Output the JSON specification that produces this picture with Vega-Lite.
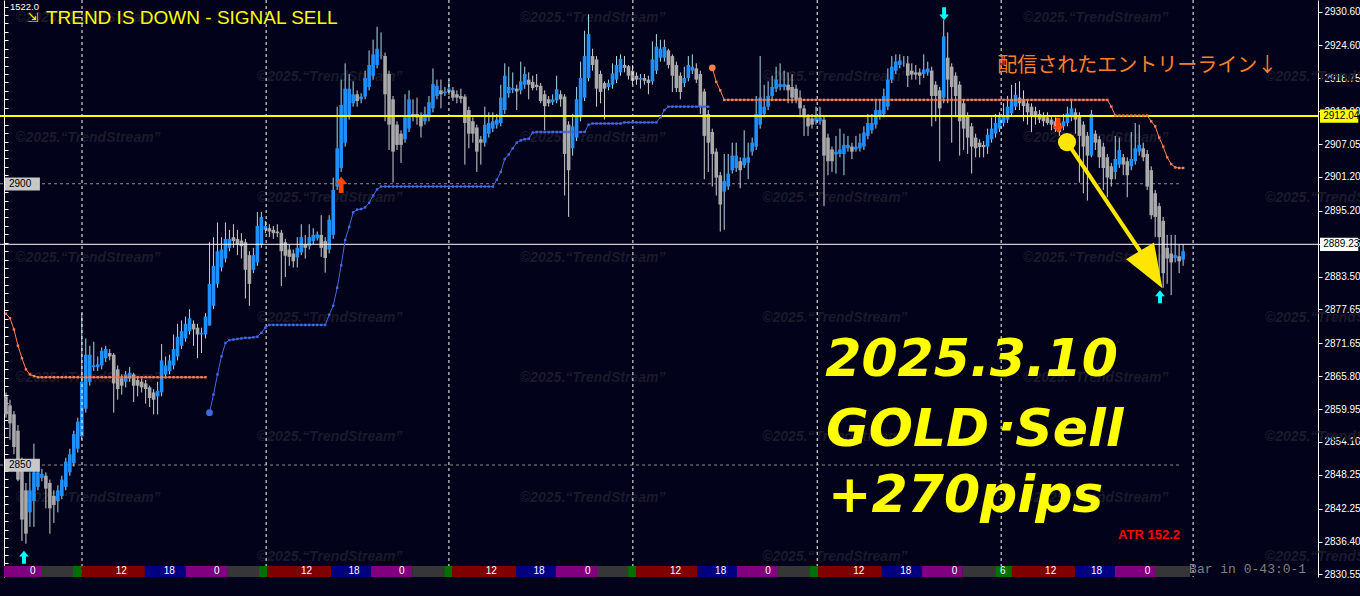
{
"$schema":"https://vega.github.io/schema/vega-lite/v6.json",
"width":1318,"height":577,
"autosize":{"type":"none"},
"padding":{"left":0,"top":0,"right":42,"bottom":19},
"background":"#02021A",
"config":{"view":{"stroke":null},"font":"Liberation Sans"},
"resolve":{"axis":{"y":"independent"}},
"datasets":{
"bars":[
{"i":0,"o":2862.2,"h":2862.9,"l":2858.4,"c":2859.0,"u":2876.9},
{"i":1,"o":2860.6,"h":2861.6,"l":2854.5,"c":2857.4,"u":2876.1},
{"i":2,"o":2859.0,"h":2859.6,"l":2851.9,"c":2853.2,"u":2874.1},
{"i":3,"o":2856.1,"h":2857.1,"l":2847.1,"c":2847.4,"u":2871.2},
{"i":4,"o":2850.6,"h":2851.3,"l":2836.5,"c":2840.3,"u":2869.0},
{"i":5,"o":2845.5,"h":2846.8,"l":2836.0,"c":2837.8,"u":2867.0},
{"i":6,"o":2841.6,"h":2848.7,"l":2839.0,"c":2845.5,"u":2866.1},
{"i":7,"o":2843.6,"h":2853.8,"l":2839.0,"c":2848.7,"u":2865.8},
{"i":8,"o":2846.1,"h":2850.0,"l":2845.5,"c":2848.7,"u":2865.6},
{"i":9,"o":2847.7,"h":2849.3,"l":2847.1,"c":2848.4,"u":2865.6},
{"i":10,"o":2848.1,"h":2848.7,"l":2842.3,"c":2845.8,"u":2865.6},
{"i":11,"o":2846.8,"h":2847.4,"l":2837.8,"c":2842.3,"u":2865.6},
{"i":12,"o":2844.5,"h":2845.5,"l":2839.7,"c":2842.9,"u":2865.6},
{"i":13,"o":2843.6,"h":2846.4,"l":2841.6,"c":2845.5,"u":2865.6},
{"i":14,"o":2844.5,"h":2848.1,"l":2843.9,"c":2847.4,"u":2865.6},
{"i":15,"o":2846.1,"h":2851.3,"l":2845.5,"c":2850.6,"u":2865.6},
{"i":16,"o":2848.7,"h":2852.9,"l":2848.1,"c":2851.9,"u":2865.6},
{"i":17,"o":2850.3,"h":2856.1,"l":2849.7,"c":2855.5,"u":2865.6},
{"i":18,"o":2852.9,"h":2858.4,"l":2852.2,"c":2857.7,"u":2865.6},
{"i":19,"o":2855.1,"h":2877.0,"l":2854.5,"c":2864.8,"u":2865.6},
{"i":20,"o":2860.0,"h":2872.5,"l":2859.3,"c":2869.6,"u":2865.6},
{"i":21,"o":2864.8,"h":2871.2,"l":2864.1,"c":2869.6,"u":2865.6},
{"i":22,"o":2867.4,"h":2871.9,"l":2866.7,"c":2867.7,"u":2865.6},
{"i":23,"o":2867.4,"h":2869.3,"l":2866.7,"c":2867.9,"u":2865.6},
{"i":24,"o":2867.7,"h":2870.9,"l":2867.0,"c":2870.3,"u":2865.6},
{"i":25,"o":2869.0,"h":2871.2,"l":2868.3,"c":2870.6,"u":2865.6},
{"i":26,"o":2869.9,"h":2870.6,"l":2868.6,"c":2869.3,"u":2865.6},
{"i":27,"o":2869.6,"h":2869.9,"l":2859.3,"c":2864.5,"u":2865.6},
{"i":28,"o":2867.0,"h":2867.7,"l":2861.6,"c":2863.5,"u":2865.6},
{"i":29,"o":2865.4,"h":2866.1,"l":2862.5,"c":2864.1,"u":2865.6},
{"i":30,"o":2864.8,"h":2866.7,"l":2863.8,"c":2866.1,"u":2865.6},
{"i":31,"o":2865.4,"h":2867.4,"l":2864.8,"c":2866.4,"u":2865.6},
{"i":32,"o":2866.1,"h":2866.4,"l":2861.2,"c":2864.1,"u":2865.6},
{"i":33,"o":2865.1,"h":2865.7,"l":2862.2,"c":2864.1,"u":2865.6},
{"i":34,"o":2864.8,"h":2865.4,"l":2862.9,"c":2863.8,"u":2865.6},
{"i":35,"o":2864.5,"h":2865.1,"l":2860.9,"c":2863.5,"u":2865.6},
{"i":36,"o":2863.8,"h":2864.1,"l":2860.3,"c":2861.9,"u":2865.6},
{"i":37,"o":2862.9,"h":2863.5,"l":2859.0,"c":2861.6,"u":2865.6},
{"i":38,"o":2862.2,"h":2864.8,"l":2859.0,"c":2863.2,"u":2865.6},
{"i":39,"o":2862.9,"h":2871.5,"l":2862.2,"c":2868.6,"u":2865.6},
{"i":40,"o":2866.1,"h":2869.3,"l":2865.4,"c":2867.7,"u":2865.6},
{"i":41,"o":2866.7,"h":2869.6,"l":2866.1,"c":2868.6,"u":2865.6},
{"i":42,"o":2867.7,"h":2873.2,"l":2867.0,"c":2870.6,"u":2865.6},
{"i":43,"o":2869.3,"h":2875.1,"l":2868.6,"c":2872.8,"u":2865.6},
{"i":44,"o":2871.2,"h":2875.7,"l":2870.6,"c":2873.8,"u":2865.6},
{"i":45,"o":2872.5,"h":2876.4,"l":2871.9,"c":2875.1,"u":2865.6},
{"i":46,"o":2873.8,"h":2877.7,"l":2873.2,"c":2876.1,"u":2865.6},
{"i":47,"o":2875.1,"h":2875.7,"l":2871.2,"c":2874.1,"u":2865.6},
{"i":48,"o":2874.4,"h":2875.1,"l":2869.0,"c":2873.2,"u":2865.6},
{"i":49,"o":2873.2,"h":2874.4,"l":2869.9,"c":2873.5,"u":2865.6},
{"i":50,"o":2873.2,"h":2877.0,"l":2872.5,"c":2876.4,"u":2865.6},
{"i":51,"o":2874.8,"h":2889.6,"l":2874.8,"c":2882.2,"d":2859.3},
{"i":52,"o":2878.3,"h":2890.5,"l":2877.7,"c":2885.4,"d":2862.5},
{"i":53,"o":2882.2,"h":2893.1,"l":2881.5,"c":2888.0,"d":2866.1},
{"i":54,"o":2885.1,"h":2890.5,"l":2884.4,"c":2888.3,"d":2869.3},
{"i":55,"o":2886.7,"h":2893.1,"l":2886.0,"c":2890.2,"d":2871.7},
{"i":56,"o":2888.6,"h":2891.8,"l":2888.0,"c":2890.2,"d":2872.2},
{"i":57,"o":2890.5,"h":2892.8,"l":2888.6,"c":2889.8,"d":2872.3},
{"i":58,"o":2890.2,"h":2891.8,"l":2887.3,"c":2889.2,"d":2872.4},
{"i":59,"o":2889.9,"h":2891.2,"l":2886.7,"c":2888.9,"d":2872.5},
{"i":60,"o":2889.6,"h":2890.2,"l":2879.6,"c":2884.7,"d":2872.6},
{"i":61,"o":2887.3,"h":2888.0,"l":2878.3,"c":2882.2,"d":2872.6},
{"i":62,"o":2884.7,"h":2888.6,"l":2884.1,"c":2887.3,"d":2872.7},
{"i":63,"o":2886.0,"h":2895.0,"l":2885.4,"c":2892.5,"d":2872.8},
{"i":64,"o":2889.2,"h":2895.0,"l":2888.6,"c":2894.1,"d":2873.5},
{"i":65,"o":2891.8,"h":2893.4,"l":2891.2,"c":2892.5,"d":2874.4},
{"i":66,"o":2892.1,"h":2892.8,"l":2890.5,"c":2891.5,"d":2874.9},
{"i":67,"o":2891.8,"h":2892.5,"l":2890.2,"c":2891.2,"d":2874.9},
{"i":68,"o":2891.5,"h":2892.8,"l":2890.5,"c":2891.2,"d":2874.9},
{"i":69,"o":2891.3,"h":2891.8,"l":2881.8,"c":2888.0,"d":2874.9},
{"i":70,"o":2889.6,"h":2890.2,"l":2883.4,"c":2887.2,"d":2874.9},
{"i":71,"o":2888.3,"h":2889.2,"l":2885.4,"c":2887.0,"d":2874.9},
{"i":72,"o":2887.6,"h":2888.3,"l":2885.1,"c":2886.2,"d":2874.9},
{"i":73,"o":2886.9,"h":2890.5,"l":2885.1,"c":2888.6,"d":2874.9},
{"i":74,"o":2887.8,"h":2892.8,"l":2887.3,"c":2890.5,"d":2874.9},
{"i":75,"o":2889.2,"h":2890.9,"l":2886.7,"c":2888.6,"d":2874.9},
{"i":76,"o":2888.9,"h":2892.8,"l":2888.3,"c":2890.5,"d":2874.9},
{"i":77,"o":2889.8,"h":2892.1,"l":2889.2,"c":2890.9,"d":2874.9},
{"i":78,"o":2890.3,"h":2891.5,"l":2889.9,"c":2891.0,"d":2874.9},
{"i":79,"o":2890.9,"h":2894.4,"l":2887.0,"c":2888.6,"d":2874.9},
{"i":80,"o":2889.8,"h":2890.5,"l":2884.2,"c":2886.8,"d":2874.9},
{"i":81,"o":2888.3,"h":2894.4,"l":2887.6,"c":2893.6,"d":2876.7},
{"i":82,"o":2890.9,"h":2901.1,"l":2890.2,"c":2898.9,"d":2878.3},
{"i":83,"o":2899.5,"h":2913.7,"l":2898.9,"c":2906.3,"d":2881.5},
{"i":84,"o":2902.8,"h":2918.5,"l":2902.1,"c":2914.0,"d":2885.5},
{"i":85,"o":2907.3,"h":2921.4,"l":2906.6,"c":2916.9,"d":2890.0},
{"i":86,"o":2912.1,"h":2919.5,"l":2911.4,"c":2916.9,"d":2892.3},
{"i":87,"o":2914.3,"h":2918.2,"l":2913.7,"c":2915.9,"d":2894.9},
{"i":88,"o":2915.9,"h":2916.6,"l":2913.7,"c":2914.7,"d":2895.4},
{"i":89,"o":2915.0,"h":2916.1,"l":2914.3,"c":2915.5,"d":2895.5},
{"i":90,"o":2915.5,"h":2920.1,"l":2915.0,"c":2918.8,"d":2895.8},
{"i":91,"o":2917.2,"h":2923.7,"l":2916.6,"c":2921.1,"d":2896.6},
{"i":92,"o":2919.2,"h":2925.6,"l":2918.5,"c":2923.0,"d":2897.9},
{"i":93,"o":2921.1,"h":2927.9,"l":2920.5,"c":2924.0,"d":2899.0},
{"i":94,"o":2922.7,"h":2926.9,"l":2922.1,"c":2922.8,"d":2899.5},
{"i":95,"o":2922.7,"h":2923.3,"l":2911.1,"c":2915.9,"d":2899.5},
{"i":96,"o":2919.5,"h":2920.1,"l":2906.0,"c":2910.5,"d":2899.5},
{"i":97,"o":2915.0,"h":2915.6,"l":2900.2,"c":2905.7,"d":2899.5},
{"i":98,"o":2910.5,"h":2911.1,"l":2906.0,"c":2906.9,"d":2899.5},
{"i":99,"o":2908.9,"h":2909.5,"l":2903.7,"c":2906.9,"d":2899.5},
{"i":100,"o":2907.9,"h":2915.9,"l":2907.3,"c":2911.8,"d":2899.5},
{"i":101,"o":2909.8,"h":2916.6,"l":2909.2,"c":2915.0,"d":2899.5},
{"i":102,"o":2912.4,"h":2915.0,"l":2911.1,"c":2912.1,"d":2899.5},
{"i":103,"o":2912.4,"h":2915.3,"l":2910.5,"c":2911.8,"d":2899.5},
{"i":104,"o":2912.1,"h":2912.7,"l":2908.2,"c":2910.2,"d":2899.5},
{"i":105,"o":2911.1,"h":2913.7,"l":2910.5,"c":2912.4,"d":2899.5},
{"i":106,"o":2911.8,"h":2915.6,"l":2911.1,"c":2914.5,"d":2899.5},
{"i":107,"o":2913.4,"h":2920.5,"l":2912.7,"c":2917.7,"d":2899.5},
{"i":108,"o":2915.6,"h":2918.5,"l":2915.0,"c":2917.4,"d":2899.5},
{"i":109,"o":2916.6,"h":2918.5,"l":2913.4,"c":2915.9,"d":2899.5},
{"i":110,"o":2916.1,"h":2917.2,"l":2915.6,"c":2916.4,"d":2899.5},
{"i":111,"o":2916.3,"h":2918.5,"l":2915.8,"c":2916.9,"d":2899.5},
{"i":112,"o":2916.6,"h":2917.2,"l":2914.7,"c":2915.3,"d":2899.5},
{"i":113,"o":2915.9,"h":2916.6,"l":2914.3,"c":2915.3,"d":2899.5},
{"i":114,"o":2915.6,"h":2916.9,"l":2914.3,"c":2915.1,"d":2899.5},
{"i":115,"o":2915.5,"h":2915.9,"l":2903.4,"c":2910.8,"d":2899.5},
{"i":116,"o":2913.1,"h":2913.7,"l":2906.3,"c":2908.9,"d":2899.5},
{"i":117,"o":2911.1,"h":2911.8,"l":2907.3,"c":2908.9,"d":2899.5},
{"i":118,"o":2910.0,"h":2910.5,"l":2902.1,"c":2905.7,"d":2899.5},
{"i":119,"o":2907.9,"h":2908.5,"l":2903.4,"c":2907.3,"d":2899.5},
{"i":120,"o":2907.3,"h":2913.7,"l":2906.6,"c":2910.5,"d":2899.5},
{"i":121,"o":2908.9,"h":2912.7,"l":2908.2,"c":2910.8,"d":2899.5},
{"i":122,"o":2909.8,"h":2912.7,"l":2909.2,"c":2911.1,"d":2899.5},
{"i":123,"o":2910.5,"h":2912.4,"l":2909.8,"c":2911.4,"d":2900.7},
{"i":124,"o":2910.8,"h":2917.6,"l":2910.2,"c":2915.3,"d":2902.1},
{"i":125,"o":2913.1,"h":2921.4,"l":2912.4,"c":2919.2,"d":2904.4},
{"i":126,"o":2916.1,"h":2920.8,"l":2915.3,"c":2917.2,"d":2905.2},
{"i":127,"o":2916.7,"h":2919.8,"l":2916.1,"c":2917.0,"d":2906.3},
{"i":128,"o":2916.9,"h":2917.6,"l":2913.1,"c":2916.4,"d":2907.3},
{"i":129,"o":2916.6,"h":2921.7,"l":2915.9,"c":2918.2,"d":2907.7},
{"i":130,"o":2917.6,"h":2920.8,"l":2916.9,"c":2919.5,"d":2907.9},
{"i":131,"o":2918.5,"h":2919.8,"l":2915.0,"c":2917.6,"d":2908.0},
{"i":132,"o":2918.1,"h":2919.2,"l":2916.6,"c":2917.0,"d":2909.1},
{"i":133,"o":2917.6,"h":2919.5,"l":2916.6,"c":2917.2,"d":2909.2},
{"i":134,"o":2917.4,"h":2917.9,"l":2914.3,"c":2914.7,"d":2909.2},
{"i":135,"o":2915.9,"h":2916.6,"l":2909.5,"c":2913.8,"d":2909.2},
{"i":136,"o":2915.0,"h":2915.6,"l":2913.7,"c":2914.3,"d":2909.2},
{"i":137,"o":2914.5,"h":2915.9,"l":2914.0,"c":2915.0,"d":2909.2},
{"i":138,"o":2914.8,"h":2919.2,"l":2914.3,"c":2916.8,"d":2909.2},
{"i":139,"o":2915.9,"h":2916.6,"l":2913.7,"c":2915.0,"d":2909.2},
{"i":140,"o":2915.5,"h":2915.9,"l":2897.9,"c":2905.3,"d":2909.2},
{"i":141,"o":2910.5,"h":2911.1,"l":2894.1,"c":2902.4,"d":2909.2},
{"i":142,"o":2906.3,"h":2912.4,"l":2905.0,"c":2910.2,"d":2909.2},
{"i":143,"o":2908.2,"h":2917.2,"l":2907.6,"c":2915.0,"d":2909.2},
{"i":144,"o":2911.8,"h":2921.7,"l":2911.1,"c":2918.8,"d":2909.2},
{"i":145,"o":2915.3,"h":2927.2,"l":2914.7,"c":2922.7,"d":2909.2},
{"i":146,"o":2918.8,"h":2930.1,"l":2918.2,"c":2926.6,"d":2910.5},
{"i":147,"o":2922.7,"h":2924.0,"l":2920.1,"c":2921.1,"d":2910.7},
{"i":148,"o":2922.1,"h":2922.7,"l":2913.7,"c":2916.9,"d":2910.7},
{"i":149,"o":2919.5,"h":2920.1,"l":2914.3,"c":2916.3,"d":2910.7},
{"i":150,"o":2917.9,"h":2918.2,"l":2911.4,"c":2916.9,"d":2910.7},
{"i":151,"o":2917.2,"h":2918.5,"l":2916.6,"c":2917.9,"d":2910.7},
{"i":152,"o":2917.6,"h":2921.4,"l":2916.9,"c":2919.6,"d":2910.7},
{"i":153,"o":2918.5,"h":2922.7,"l":2917.9,"c":2921.1,"d":2910.7},
{"i":154,"o":2919.8,"h":2923.0,"l":2919.2,"c":2922.2,"d":2910.7},
{"i":155,"o":2921.1,"h":2922.7,"l":2919.8,"c":2920.6,"d":2910.9},
{"i":156,"o":2920.9,"h":2921.1,"l":2918.5,"c":2919.2,"d":2910.9},
{"i":157,"o":2920.1,"h":2921.1,"l":2917.6,"c":2918.3,"d":2910.9},
{"i":158,"o":2919.2,"h":2919.8,"l":2917.6,"c":2918.5,"d":2910.9},
{"i":159,"o":2918.5,"h":2919.5,"l":2916.9,"c":2918.8,"d":2910.9},
{"i":160,"o":2918.8,"h":2919.5,"l":2917.6,"c":2918.3,"d":2910.9},
{"i":161,"o":2918.5,"h":2919.2,"l":2915.9,"c":2917.9,"d":2910.9},
{"i":162,"o":2918.2,"h":2925.3,"l":2917.6,"c":2922.1,"d":2910.9},
{"i":163,"o":2920.1,"h":2926.6,"l":2919.5,"c":2924.4,"d":2910.9},
{"i":164,"o":2922.4,"h":2925.6,"l":2921.7,"c":2924.0,"d":2911.8},
{"i":165,"o":2922.4,"h":2925.6,"l":2921.7,"c":2924.3,"d":2913.1},
{"i":166,"o":2923.7,"h":2924.0,"l":2920.5,"c":2921.1,"d":2913.7},
{"i":167,"o":2922.7,"h":2923.0,"l":2916.3,"c":2919.2,"d":2913.7},
{"i":168,"o":2921.1,"h":2921.7,"l":2916.3,"c":2917.0,"d":2913.7},
{"i":169,"o":2919.2,"h":2919.8,"l":2915.0,"c":2916.3,"d":2913.7},
{"i":170,"o":2917.9,"h":2920.8,"l":2917.2,"c":2918.8,"d":2913.7},
{"i":171,"o":2918.8,"h":2922.7,"l":2918.2,"c":2921.1,"d":2913.7},
{"i":172,"o":2920.1,"h":2923.0,"l":2919.5,"c":2920.8,"d":2913.7},
{"i":173,"o":2920.5,"h":2921.4,"l":2917.9,"c":2918.5,"d":2913.7},
{"i":174,"o":2919.5,"h":2920.1,"l":2912.4,"c":2913.7,"d":2913.7},
{"i":175,"o":2916.4,"h":2916.9,"l":2900.8,"c":2908.5,"d":2913.7},
{"i":176,"o":2912.4,"h":2913.1,"l":2902.1,"c":2907.3,"d":2913.7},
{"i":177,"o":2909.2,"h":2909.8,"l":2899.5,"c":2905.3,"u":2920.6},
{"i":178,"o":2905.7,"h":2906.3,"l":2897.9,"c":2901.1,"u":2918.1},
{"i":179,"o":2901.5,"h":2902.1,"l":2891.5,"c":2896.3,"u":2916.6},
{"i":180,"o":2898.6,"h":2905.3,"l":2891.8,"c":2900.5,"u":2914.9},
{"i":181,"o":2899.5,"h":2905.3,"l":2898.9,"c":2901.8,"u":2914.9},
{"i":182,"o":2902.4,"h":2907.3,"l":2901.8,"c":2905.0,"u":2914.9},
{"i":183,"o":2902.8,"h":2907.3,"l":2902.1,"c":2905.0,"u":2914.9},
{"i":184,"o":2904.0,"h":2904.7,"l":2899.2,"c":2902.4,"u":2914.9},
{"i":185,"o":2903.3,"h":2909.5,"l":2902.8,"c":2904.6,"u":2914.9},
{"i":186,"o":2903.7,"h":2907.3,"l":2900.8,"c":2904.7,"u":2914.9},
{"i":187,"o":2905.7,"h":2908.2,"l":2905.0,"c":2907.3,"u":2914.9},
{"i":188,"o":2906.6,"h":2915.6,"l":2906.0,"c":2912.4,"u":2914.9},
{"i":189,"o":2910.5,"h":2922.7,"l":2909.8,"c":2915.3,"u":2914.9},
{"i":190,"o":2912.4,"h":2917.6,"l":2911.8,"c":2913.7,"u":2914.9},
{"i":191,"o":2913.7,"h":2918.2,"l":2913.1,"c":2915.6,"u":2914.9},
{"i":192,"o":2915.6,"h":2919.2,"l":2915.0,"c":2917.2,"u":2914.9},
{"i":193,"o":2916.9,"h":2920.8,"l":2916.3,"c":2918.5,"u":2914.9},
{"i":194,"o":2917.2,"h":2921.4,"l":2916.6,"c":2917.7,"u":2914.9},
{"i":195,"o":2917.2,"h":2920.1,"l":2916.6,"c":2917.7,"u":2914.9},
{"i":196,"o":2917.6,"h":2919.8,"l":2914.3,"c":2916.6,"u":2914.9},
{"i":197,"o":2917.2,"h":2919.5,"l":2914.3,"c":2915.3,"u":2914.9},
{"i":198,"o":2916.9,"h":2917.6,"l":2914.3,"c":2915.0,"u":2914.9},
{"i":199,"o":2915.3,"h":2916.6,"l":2911.8,"c":2913.4,"u":2914.9},
{"i":200,"o":2913.4,"h":2914.0,"l":2908.5,"c":2911.8,"u":2914.9},
{"i":201,"o":2911.8,"h":2912.4,"l":2908.5,"c":2910.2,"u":2914.9},
{"i":202,"o":2911.6,"h":2912.4,"l":2909.8,"c":2910.5,"u":2914.9},
{"i":203,"o":2911.1,"h":2913.7,"l":2910.5,"c":2911.8,"u":2914.9},
{"i":204,"o":2911.1,"h":2913.7,"l":2910.5,"c":2911.8,"u":2914.9},
{"i":205,"o":2911.4,"h":2912.1,"l":2896.0,"c":2905.0,"u":2914.9},
{"i":206,"o":2908.2,"h":2908.9,"l":2901.5,"c":2904.0,"u":2914.9},
{"i":207,"o":2906.1,"h":2906.6,"l":2902.1,"c":2904.0,"u":2914.9},
{"i":208,"o":2905.2,"h":2908.5,"l":2901.8,"c":2905.7,"u":2914.9},
{"i":209,"o":2905.3,"h":2909.8,"l":2904.7,"c":2906.1,"u":2914.9},
{"i":210,"o":2905.3,"h":2908.9,"l":2901.5,"c":2906.9,"u":2914.9},
{"i":211,"o":2906.3,"h":2908.5,"l":2905.7,"c":2906.9,"u":2914.9},
{"i":212,"o":2906.6,"h":2907.3,"l":2904.4,"c":2905.7,"u":2914.9},
{"i":213,"o":2906.1,"h":2908.5,"l":2905.7,"c":2906.6,"u":2914.9},
{"i":214,"o":2906.3,"h":2908.9,"l":2905.7,"c":2907.3,"u":2914.9},
{"i":215,"o":2906.6,"h":2910.2,"l":2906.0,"c":2909.1,"u":2914.9},
{"i":216,"o":2908.5,"h":2912.4,"l":2907.9,"c":2910.8,"u":2914.9},
{"i":217,"o":2909.5,"h":2912.4,"l":2908.9,"c":2910.8,"u":2914.9},
{"i":218,"o":2910.5,"h":2915.0,"l":2909.8,"c":2913.1,"u":2914.9},
{"i":219,"o":2912.1,"h":2915.0,"l":2911.4,"c":2913.1,"u":2914.9},
{"i":220,"o":2912.4,"h":2916.9,"l":2911.8,"c":2915.6,"u":2914.9},
{"i":221,"o":2913.7,"h":2920.5,"l":2913.1,"c":2918.5,"u":2914.9},
{"i":222,"o":2918.5,"h":2922.7,"l":2917.9,"c":2920.8,"u":2914.9},
{"i":223,"o":2920.1,"h":2923.0,"l":2919.5,"c":2921.7,"u":2914.9},
{"i":224,"o":2921.1,"h":2923.0,"l":2920.5,"c":2921.9,"u":2914.9},
{"i":225,"o":2921.4,"h":2922.7,"l":2920.8,"c":2921.5,"u":2914.9},
{"i":226,"o":2921.4,"h":2922.7,"l":2917.2,"c":2919.2,"u":2914.9},
{"i":227,"o":2920.1,"h":2921.4,"l":2918.5,"c":2919.4,"u":2914.9},
{"i":228,"o":2919.8,"h":2921.1,"l":2918.5,"c":2919.4,"u":2914.9},
{"i":229,"o":2919.8,"h":2920.5,"l":2917.6,"c":2919.2,"u":2914.9},
{"i":230,"o":2919.5,"h":2923.0,"l":2918.8,"c":2920.3,"u":2914.9},
{"i":231,"o":2919.8,"h":2921.7,"l":2919.2,"c":2920.5,"u":2914.9},
{"i":232,"o":2920.1,"h":2920.8,"l":2910.2,"c":2915.6,"u":2914.9},
{"i":233,"o":2917.6,"h":2918.2,"l":2911.1,"c":2915.6,"u":2914.9},
{"i":234,"o":2916.6,"h":2917.2,"l":2904.0,"c":2913.4,"u":2914.9},
{"i":235,"o":2915.3,"h":2929.1,"l":2914.3,"c":2926.2,"u":2914.9},
{"i":236,"o":2922.4,"h":2926.9,"l":2914.3,"c":2918.5,"u":2914.9},
{"i":237,"o":2920.8,"h":2921.4,"l":2907.3,"c":2917.2,"u":2914.9},
{"i":238,"o":2919.2,"h":2919.8,"l":2911.8,"c":2915.6,"u":2914.9},
{"i":239,"o":2917.6,"h":2918.2,"l":2905.0,"c":2911.1,"u":2914.9},
{"i":240,"o":2914.3,"h":2915.0,"l":2906.0,"c":2909.8,"u":2914.9},
{"i":241,"o":2912.1,"h":2912.7,"l":2905.3,"c":2908.2,"u":2914.9},
{"i":242,"o":2910.2,"h":2910.8,"l":2901.8,"c":2906.6,"u":2914.9},
{"i":243,"o":2908.2,"h":2908.9,"l":2904.7,"c":2906.3,"u":2914.9},
{"i":244,"o":2907.3,"h":2907.9,"l":2904.7,"c":2906.5,"u":2914.9},
{"i":245,"o":2906.9,"h":2907.6,"l":2904.7,"c":2906.5,"u":2914.9},
{"i":246,"o":2906.6,"h":2909.8,"l":2905.3,"c":2908.7,"u":2914.9},
{"i":247,"o":2907.9,"h":2911.8,"l":2907.3,"c":2909.8,"u":2914.9},
{"i":248,"o":2908.9,"h":2912.4,"l":2908.2,"c":2910.8,"u":2914.9},
{"i":249,"o":2909.8,"h":2912.7,"l":2909.2,"c":2911.8,"u":2914.9},
{"i":250,"o":2910.8,"h":2914.3,"l":2910.2,"c":2912.1,"u":2914.9},
{"i":251,"o":2911.4,"h":2915.6,"l":2910.8,"c":2913.7,"u":2914.9},
{"i":252,"o":2912.5,"h":2917.6,"l":2911.9,"c":2915.0,"u":2914.9},
{"i":253,"o":2913.7,"h":2917.9,"l":2913.1,"c":2915.8,"u":2914.9},
{"i":254,"o":2915.3,"h":2918.2,"l":2913.1,"c":2914.3,"u":2914.9},
{"i":255,"o":2915.0,"h":2916.6,"l":2911.1,"c":2913.8,"u":2914.9},
{"i":256,"o":2914.3,"h":2915.0,"l":2910.5,"c":2912.7,"u":2914.9},
{"i":257,"o":2913.7,"h":2914.3,"l":2909.2,"c":2912.1,"u":2914.9},
{"i":258,"o":2912.9,"h":2913.7,"l":2910.5,"c":2911.8,"u":2914.9},
{"i":259,"o":2912.4,"h":2913.1,"l":2910.8,"c":2911.4,"u":2914.9},
{"i":260,"o":2912.1,"h":2912.7,"l":2910.2,"c":2911.1,"u":2914.9},
{"i":261,"o":2911.8,"h":2912.7,"l":2910.5,"c":2910.8,"u":2914.9},
{"i":262,"o":2911.4,"h":2912.1,"l":2909.5,"c":2910.5,"u":2914.9},
{"i":263,"o":2911.1,"h":2911.8,"l":2909.2,"c":2909.7,"u":2914.9},
{"i":264,"o":2910.8,"h":2911.4,"l":2908.5,"c":2909.2,"u":2914.9},
{"i":265,"o":2910.2,"h":2912.4,"l":2909.5,"c":2911.1,"u":2914.9},
{"i":266,"o":2910.8,"h":2913.7,"l":2910.2,"c":2912.5,"u":2914.9},
{"i":267,"o":2911.8,"h":2914.7,"l":2911.1,"c":2913.4,"u":2914.9},
{"i":268,"o":2912.7,"h":2913.4,"l":2908.9,"c":2911.4,"u":2914.9},
{"i":269,"o":2912.1,"h":2912.7,"l":2900.2,"c":2908.5,"u":2914.9},
{"i":270,"o":2910.5,"h":2911.1,"l":2898.3,"c":2906.6,"u":2914.9},
{"i":271,"o":2908.5,"h":2909.2,"l":2897.0,"c":2905.0,"u":2914.9},
{"i":272,"o":2905.0,"h":2913.1,"l":2904.7,"c":2912.4,"u":2914.9},
{"i":273,"o":2908.9,"h":2909.5,"l":2906.0,"c":2907.3,"u":2914.9},
{"i":274,"o":2907.9,"h":2908.5,"l":2902.8,"c":2904.7,"u":2914.9},
{"i":275,"o":2906.6,"h":2907.3,"l":2898.9,"c":2902.8,"u":2914.9},
{"i":276,"o":2904.7,"h":2905.3,"l":2897.6,"c":2901.1,"u":2914.9},
{"i":277,"o":2903.1,"h":2903.7,"l":2899.5,"c":2900.8,"u":2913.7},
{"i":278,"o":2902.1,"h":2908.5,"l":2900.8,"c":2904.4,"u":2912.1},
{"i":279,"o":2903.4,"h":2908.2,"l":2902.8,"c":2906.0,"u":2912.1},
{"i":280,"o":2904.7,"h":2905.3,"l":2901.5,"c":2903.4,"u":2912.1},
{"i":281,"o":2904.0,"h":2904.7,"l":2897.6,"c":2901.5,"u":2912.1},
{"i":282,"o":2903.1,"h":2909.2,"l":2902.4,"c":2904.4,"u":2912.1},
{"i":283,"o":2904.0,"h":2910.8,"l":2903.4,"c":2906.3,"u":2912.1},
{"i":284,"o":2905.7,"h":2910.5,"l":2905.0,"c":2906.9,"u":2912.1},
{"i":285,"o":2906.3,"h":2907.3,"l":2904.0,"c":2904.7,"u":2912.1},
{"i":286,"o":2905.3,"h":2906.0,"l":2898.9,"c":2899.5,"u":2912.1},
{"i":287,"o":2902.4,"h":2903.1,"l":2893.7,"c":2894.4,"u":2911.1},
{"i":288,"o":2898.3,"h":2898.9,"l":2890.5,"c":2894.1,"u":2910.2},
{"i":289,"o":2896.0,"h":2896.6,"l":2883.8,"c":2890.5,"u":2908.2},
{"i":290,"o":2893.4,"h":2894.1,"l":2881.5,"c":2884.1,"u":2906.6},
{"i":291,"o":2888.6,"h":2890.9,"l":2882.2,"c":2886.7,"u":2904.7},
{"i":292,"o":2887.6,"h":2890.9,"l":2880.2,"c":2886.0,"u":2903.5},
{"i":293,"o":2886.8,"h":2890.9,"l":2886.0,"c":2887.3,"u":2902.9},
{"i":294,"o":2887.1,"h":2889.2,"l":2884.1,"c":2886.2,"u":2902.8},
{"i":295,"o":2886.5,"h":2889.2,"l":2885.4,"c":2888.0,"u":2902.8}
],
"sess":[
{"a":-0.5,"b":8.8,"s":"0"},{"a":8.8,"b":16.8,"s":"x"},{"a":16.8,"b":19.0,"s":"g"},{"a":19.0,"b":34.8,"s":"12"},{"a":34.8,"b":45.1,"s":"18"},
{"a":45.1,"b":55.4,"s":"0"},{"a":55.4,"b":63.4,"s":"x"},{"a":63.4,"b":65.4,"s":"g"},{"a":65.4,"b":81.5,"s":"12"},{"a":81.5,"b":91.5,"s":"18"},
{"a":91.5,"b":101.8,"s":"0"},{"a":101.8,"b":109.8,"s":"x"},{"a":109.8,"b":111.8,"s":"g"},{"a":111.8,"b":127.8,"s":"12"},{"a":127.8,"b":137.8,"s":"18"},
{"a":137.8,"b":148.1,"s":"0"},{"a":148.1,"b":155.9,"s":"x"},{"a":155.9,"b":157.9,"s":"g"},{"a":157.9,"b":173.2,"s":"12"},{"a":173.2,"b":183.2,"s":"18"},
{"a":183.2,"b":193.5,"s":"0"},{"a":193.5,"b":201.5,"s":"x"},{"a":201.5,"b":203.5,"s":"g"},{"a":203.5,"b":219.5,"s":"12"},{"a":219.5,"b":229.6,"s":"18"},
{"a":229.6,"b":239.8,"s":"0"},{"a":239.8,"b":247.9,"s":"x"},{"a":247.9,"b":252.1,"s":"g"},{"a":252.1,"b":267.9,"s":"12"},{"a":267.9,"b":277.9,"s":"18"},
{"a":277.9,"b":288.2,"s":"0"},{"a":288.2,"b":296.7,"s":"x"}
],
"slab":[
{"i":6.7,"t":"0"},{"i":28.9,"t":"12"},{"i":40.9,"t":"18"},{"i":52.8,"t":"0"},{"i":75.3,"t":"12"},{"i":87.2,"t":"18"},{"i":99.2,"t":"0"},
{"i":121.6,"t":"12"},{"i":133.6,"t":"18"},{"i":145.8,"t":"0"},{"i":167.8,"t":"12"},{"i":179.1,"t":"18"},{"i":191.0,"t":"0"},{"i":213.7,"t":"12"},
{"i":225.5,"t":"18"},{"i":237.7,"t":"0"},{"i":249.8,"t":"6"},{"i":261.8,"t":"12"},{"i":273.3,"t":"18"},{"i":286.1,"t":"0"}
],
"sig":[
{"i":4.5,"p":2833.6,"t":"cu"},{"i":84.0,"p":2899.8,"t":"ru"},{"i":235.1,"p":2930.2,"t":"cd"},{"i":263.7,"p":2910.4,"t":"rd"},{"i":289.2,"p":2879.9,"t":"cu"}
],
"vs":[{"i":19.05},{"i":65.2},{"i":111.0},{"i":157.1},{"i":203.3},{"i":249.4},{"i":297.5}],
"wm":[
{"i":2.3,"p":2929.5},{"i":2.3,"p":2908.1},{"i":2.3,"p":2886.8},{"i":2.3,"p":2865.5},{"i":2.3,"p":2844.1},
{"i":128.8,"p":2929.5},{"i":128.8,"p":2908.1},{"i":128.8,"p":2886.8},{"i":128.8,"p":2865.5},{"i":128.8,"p":2844.1},
{"i":254.9,"p":2929.5},{"i":254.9,"p":2908.1},{"i":254.9,"p":2886.8},{"i":254.9,"p":2865.5},{"i":254.9,"p":2844.1},
{"i":62.9,"p":2919.0},{"i":62.9,"p":2897.5},{"i":62.9,"p":2876.1},{"i":62.9,"p":2855.0},{"i":62.9,"p":2833.6},
{"i":189.5,"p":2919.0},{"i":189.5,"p":2897.5},{"i":189.5,"p":2876.1},{"i":189.5,"p":2855.0},{"i":189.5,"p":2833.6},
{"i":315.5,"p":2919.0},{"i":315.5,"p":2897.5},{"i":315.5,"p":2876.1},{"i":315.5,"p":2855.0},{"i":315.5,"p":2833.6}
]
},
"layer":[
{"data":{"name":"wm"},"mark":{"type":"text","align":"left","baseline":"middle","font":"Liberation Sans","fontSize":14,"fontStyle":"italic","fontWeight":"bold","color":"#1A1A2B"},
 "encoding":{"x":{"field":"i","type":"quantitative","axis":null},"y":{"field":"p","type":"quantitative","axis":null},"text":{"value":"©2025.“TrendStream”"}}},
{"data":{"values":[{}]},"mark":{"type":"rule","color":"#8C8C8C","strokeDash":[3,3],"strokeWidth":1},
 "encoding":{"x":{"datum":-1.5,"axis":null},"x2":{"datum":294.2},"y":{"datum":2900,"type":"quantitative","axis":{"orient":"left","offset":-4,"labels":false,"tickSize":-4,"tickColor":"#ffffff","domainColor":"#ffffff","grid":false,"title":null,
 "values":[2831,2832.5,2834,2835.5,2837,2838.5,2840,2841.5,2843,2844.5,2846,2847.5,2849,2850.5,2852,2853.5,2855,2856.5,2858,2859.5,2861,2862.5,2864,2865.5,2867,2868.5,2870,2871.5,2873,2874.5,2876,2877.5,2879,2880.5,2882,2883.5,2885,2886.5,2888,2889.5,2891,2892.5,2894,2895.5,2897,2898.5,2900,2901.5,2903,2904.5,2906,2907.5,2909,2910.5,2912,2913.5,2915,2916.5,2918,2919.5,2921,2922.5,2924,2925.5,2927,2928.5,2930,2931.5]}}}},
{"data":{"values":[{}]},"mark":{"type":"rule","color":"#8C8C8C","strokeDash":[3,3],"strokeWidth":1},
 "encoding":{"x":{"datum":-1.5,"axis":null},"x2":{"datum":294.2},"y":{"datum":2850,"type":"quantitative","axis":null}}},
{"data":{"name":"bars"},"mark":{"type":"rule","strokeWidth":1},
 "encoding":{
  "x":{"field":"i","type":"quantitative","scale":{"domain":[-1.5,328.8],"nice":false,"zero":false},
   "axis":{"values":[0,16,32,48,64,80,96,112,128,144,160,176,192,208,224,240,256,272,288],
    "labelExpr":"['28 Feb 2025','28 Feb 22:30','3 Mar 07:30','3 Mar 15:30','3 Mar 23:30','4 Mar 08:30','4 Mar 16:30','5 Mar 01:30','5 Mar 09:30','5 Mar 17:30','6 Mar 02:30','6 Mar 10:30','6 Mar 18:30','7 Mar 03:30','7 Mar 11:30','7 Mar 19:30','10 Mar 03:30','10 Mar 11:30','10 Mar 19:30'][round(datum.value/16)]",
    "labelAlign":"left","labelBaseline":"top","labelDx":-1,"labelPadding":2,"labelColor":"#ffffff","labelFont":"Liberation Sans","labelFontSize":10,
    "tickColor":"#ffffff","tickSize":4,"domainColor":"#ffffff","grid":false,"title":null,"labelOverlap":false,"labelFlush":false,"labelBound":false,"zindex":1}},
  "y":{"field":"l","type":"quantitative","scale":{"domain":[2830.09,2932.66],"nice":false,"zero":false},
   "axis":{"orient":"right","values":[2830.55,2836.40,2842.25,2848.25,2854.10,2859.95,2865.80,2871.65,2877.65,2883.50,2889.35,2895.20,2901.20,2907.05,2912.90,2918.75,2924.60,2930.60],
    "format":".2f","labelColor":"#ffffff","labelFont":"Liberation Sans","labelFontSize":10,"labelPadding":2,"tickColor":"#ffffff","tickSize":4,"domainColor":"#ffffff","grid":false,"title":null,"labelOverlap":false,"labelBound":false}},
  "y2":{"field":"h"},
  "color":{"condition":{"test":"datum.c>=datum.o","value":"#ADD8E6"},"value":"#D0D0D0"}}},
{"data":{"name":"bars"},"mark":{"type":"rule","strokeWidth":3.6},
 "encoding":{"x":{"field":"i","type":"quantitative","axis":null},"y":{"field":"o","type":"quantitative","axis":null},"y2":{"field":"c"},
  "color":{"condition":{"test":"datum.c>=datum.o","value":"#1E90FF"},"value":"#A9A9A9"}}},
{"data":{"name":"vs"},"mark":{"type":"rule","color":"#ffffff","strokeDash":[3,3],"strokeWidth":1},
 "encoding":{"x":{"field":"i","type":"quantitative","axis":null}}},
{"data":{"values":[{}]},"mark":{"type":"rule","color":"#FFFF00","strokeWidth":2},"encoding":{"y":{"datum":2912.04,"type":"quantitative","axis":null}}},
{"data":{"values":[{}]},"mark":{"type":"rule","color":"#FFFFFF","strokeWidth":1},"encoding":{"y":{"datum":2889.23,"type":"quantitative","axis":null}}},
{"data":{"name":"bars"},"transform":[{"filter":"isValid(datum.u) && datum.i < 100"}],
 "mark":{"type":"line","color":"#FF7F50","strokeWidth":1,"point":{"shape":"square","size":6,"filled":true,"color":"#FF7F50"}},
 "encoding":{"x":{"field":"i","type":"quantitative","axis":null},"y":{"field":"u","type":"quantitative","axis":null}}},
{"data":{"name":"bars"},"transform":[{"filter":"isValid(datum.u) && datum.i > 100"}],
 "mark":{"type":"line","color":"#FF7F50","strokeWidth":1,"point":{"shape":"square","size":6,"filled":true,"color":"#FF7F50"}},
 "encoding":{"x":{"field":"i","type":"quantitative","axis":null},"y":{"field":"u","type":"quantitative","axis":null}}},
{"data":{"name":"bars"},"transform":[{"filter":"isValid(datum.d)"}],
 "mark":{"type":"line","color":"#4169E1","strokeWidth":1,"point":{"shape":"square","size":6,"filled":true,"color":"#4169E1"}},
 "encoding":{"x":{"field":"i","type":"quantitative","axis":null},"y":{"field":"d","type":"quantitative","axis":null}}},
{"data":{"name":"bars"},"transform":[{"filter":"datum.i == 51"}],"mark":{"type":"point","shape":"circle","filled":true,"size":45,"color":"#4169E1","opacity":1},
 "encoding":{"x":{"field":"i","type":"quantitative","axis":null},"y":{"field":"d","type":"quantitative","axis":null}}},
{"data":{"name":"bars"},"transform":[{"filter":"datum.i == 177"}],"mark":{"type":"point","shape":"circle","filled":true,"size":45,"color":"#FF7F50","opacity":1},
 "encoding":{"x":{"field":"i","type":"quantitative","axis":null},"y":{"field":"u","type":"quantitative","axis":null}}},
{"data":{"name":"sig"},"transform":[{"filter":"datum.t == 'cu' || datum.t == 'ru'"}],
 "mark":{"type":"point","filled":true,"opacity":1,"shape":"M-0.3,1L0.3,1L0.3,-0.1L0.75,-0.1L0,-1L-0.75,-0.1L-0.3,-0.1Z"},
 "encoding":{"x":{"field":"i","type":"quantitative","axis":null},"y":{"field":"p","type":"quantitative","axis":null},
  "color":{"condition":{"test":"datum.t == 'cu'","value":"#00FFFF"},"value":"#FF4500"},
  "size":{"condition":{"test":"datum.t == 'cu'","value":170},"value":260}}},
{"data":{"name":"sig"},"transform":[{"filter":"datum.t == 'cd' || datum.t == 'rd'"}],
 "mark":{"type":"point","filled":true,"opacity":1,"shape":"M-0.3,-1L0.3,-1L0.3,0.1L0.75,0.1L0,1L-0.75,0.1L-0.3,0.1Z"},
 "encoding":{"x":{"field":"i","type":"quantitative","axis":null},"y":{"field":"p","type":"quantitative","axis":null},
  "color":{"condition":{"test":"datum.t == 'cd'","value":"#00FFFF"},"value":"#FF4500"},
  "size":{"condition":{"test":"datum.t == 'cd'","value":170},"value":220}}},
{"data":{"values":[{}]},"mark":{"type":"rule","color":"#FFE600","strokeWidth":4,"strokeCap":"round"},
 "encoding":{"x":{"datum":265.9,"axis":null},"y":{"datum":2907.4,"type":"quantitative","axis":null},"x2":{"datum":284.6},"y2":{"datum":2887.6}}},
{"data":{"values":[{}]},"mark":{"type":"point","shape":"circle","filled":true,"opacity":1,"size":330,"color":"#FFE600"},
 "encoding":{"x":{"datum":265.9,"axis":null},"y":{"datum":2907.4,"type":"quantitative","axis":null}}},
{"data":{"values":[{}]},"mark":{"type":"point","shape":"M0,-1L0.75,1L-0.75,1Z","filled":true,"opacity":1,"size":1900,"angle":149,"color":"#FFE600"},
 "encoding":{"x":{"datum":287.0,"axis":null},"y":{"datum":2884.75,"type":"quantitative","axis":null}}},
{"data":{"name":"sess"},"mark":{"type":"rect"},
 "encoding":{"x":{"field":"a","type":"quantitative","axis":null},"x2":{"field":"b"},"y":{"datum":2832.04,"type":"quantitative","axis":null},"y2":{"datum":2830.09},
  "color":{"field":"s","type":"nominal","scale":{"domain":["0","x","g","12","18"],"range":["#800080","#363636","#007000","#800000","#000080"]},"legend":null}}},
{"data":{"name":"slab"},"mark":{"type":"text","align":"center","baseline":"middle","font":"Liberation Sans","fontSize":10,"color":"#ffffff"},
 "encoding":{"x":{"field":"i","type":"quantitative","axis":null},"y":{"datum":2831.07,"type":"quantitative","axis":null},"text":{"field":"t"}}},
{"data":{"values":[{}]},"mark":{"type":"rect","color":"#C8C8C8"},
 "encoding":{"x":{"datum":-0.25,"axis":null},"x2":{"datum":8.5},"y":{"datum":2901.1,"type":"quantitative","axis":null},"y2":{"datum":2898.8}}},
{"data":{"values":[{}]},"mark":{"type":"rect","color":"#C8C8C8"},
 "encoding":{"x":{"datum":-0.25,"axis":null},"x2":{"datum":8.5},"y":{"datum":2851.1,"type":"quantitative","axis":null},"y2":{"datum":2848.8}}},
{"data":{"values":[{}]},"mark":{"type":"text","align":"left","baseline":"middle","fontSize":10,"font":"Liberation Sans","color":"#000000","text":"2900"},
 "encoding":{"x":{"datum":0.75,"axis":null},"y":{"datum":2899.95,"type":"quantitative","axis":null}}},
{"data":{"values":[{}]},"mark":{"type":"text","align":"left","baseline":"middle","fontSize":10,"font":"Liberation Sans","color":"#000000","text":"2850"},
 "encoding":{"x":{"datum":0.75,"axis":null},"y":{"datum":2849.95,"type":"quantitative","axis":null}}},
{"data":{"values":[{}]},"mark":{"type":"rect","color":"#FFFF00"},
 "encoding":{"x":{"datum":329.3,"axis":null},"x2":{"datum":338.9},"y":{"datum":2913.2,"type":"quantitative","axis":null},"y2":{"datum":2910.85}}},
{"data":{"values":[{}]},"mark":{"type":"rect","color":"#FFFFFF"},
 "encoding":{"x":{"datum":329.3,"axis":null},"x2":{"datum":338.9},"y":{"datum":2890.4,"type":"quantitative","axis":null},"y2":{"datum":2888.05}}},
{"data":{"values":[{}]},"mark":{"type":"text","align":"left","baseline":"middle","fontSize":10,"font":"Liberation Sans","color":"#000000","text":"2912.04"},
 "encoding":{"x":{"datum":330.1,"axis":null},"y":{"datum":2912.04,"type":"quantitative","axis":null}}},
{"data":{"values":[{}]},"mark":{"type":"text","align":"left","baseline":"middle","fontSize":10,"font":"Liberation Sans","color":"#000000","text":"2889.23"},
 "encoding":{"x":{"datum":330.1,"axis":null},"y":{"datum":2889.23,"type":"quantitative","axis":null}}},
{"data":{"values":[{}]},"mark":{"type":"text","align":"left","baseline":"middle","fontSize":9.5,"font":"Liberation Sans","color":"#FFFFFF","text":"1522.0"},
 "encoding":{"x":{"datum":1.0,"axis":null},"y":{"datum":2931.33,"type":"quantitative","axis":null}}},
{"data":{"values":[{}]},"mark":{"type":"text","align":"center","baseline":"middle","fontSize":13,"font":"DejaVu Sans","color":"#FFFF00","text":"⇲"},
 "encoding":{"x":{"datum":6.8,"axis":null},"y":{"datum":2929.46,"type":"quantitative","axis":null}}},
{"data":{"values":[{}]},"mark":{"type":"text","align":"left","baseline":"middle","fontSize":19,"font":"Liberation Sans","color":"#FFFF00","text":"TREND IS DOWN - SIGNAL SELL"},
 "encoding":{"x":{"datum":10.0,"axis":null},"y":{"datum":2929.46,"type":"quantitative","axis":null}}},
{"data":{"values":[{}]},"mark":{"type":"text","align":"left","baseline":"middle","fontSize":20,"font":"Noto Sans CJK JP","color":"#FF7F27","text":"配信されたエントリーライン↓"},
 "encoding":{"x":{"datum":248.4,"axis":null},"y":{"datum":2920.93,"type":"quantitative","axis":null}}},
{"data":{"values":[{}]},"mark":{"type":"text","align":"left","baseline":"alphabetic","fontSize":52,"font":"DejaVu Sans","fontWeight":"bold","fontStyle":"italic","color":"#FFFF00","text":"2025.3.10"},
 "encoding":{"x":{"datum":205.3,"axis":null},"y":{"datum":2865.8,"type":"quantitative","axis":null}}},
{"data":{"values":[{}]},"mark":{"type":"text","align":"left","baseline":"alphabetic","fontSize":52,"font":"DejaVu Sans","fontWeight":"bold","fontStyle":"italic","color":"#FFFF00","text":"GOLD･Sell"},
 "encoding":{"x":{"datum":205.5,"axis":null},"y":{"datum":2853.4,"type":"quantitative","axis":null}}},
{"data":{"values":[{}]},"mark":{"type":"text","align":"left","baseline":"alphabetic","fontSize":52,"font":"DejaVu Sans","fontWeight":"bold","fontStyle":"italic","color":"#FFFF00","text":"+270pips"},
 "encoding":{"x":{"datum":206.0,"axis":null},"y":{"datum":2841.65,"type":"quantitative","axis":null}}},
{"data":{"values":[{}]},"mark":{"type":"text","align":"left","baseline":"middle","fontSize":13,"font":"Liberation Sans","fontWeight":"bold","color":"#FF0000","text":"ATR 152.2"},
 "encoding":{"x":{"datum":278.7,"axis":null},"y":{"datum":2837.55,"type":"quantitative","axis":null}}},
{"data":{"values":[{}]},"mark":{"type":"text","align":"left","baseline":"middle","fontSize":13,"font":"Liberation Mono","color":"#808080","text":"Bar in 0-43:0-1"},
 "encoding":{"x":{"datum":296.5,"axis":null},"y":{"datum":2831.5,"type":"quantitative","axis":null}}}
]
}
